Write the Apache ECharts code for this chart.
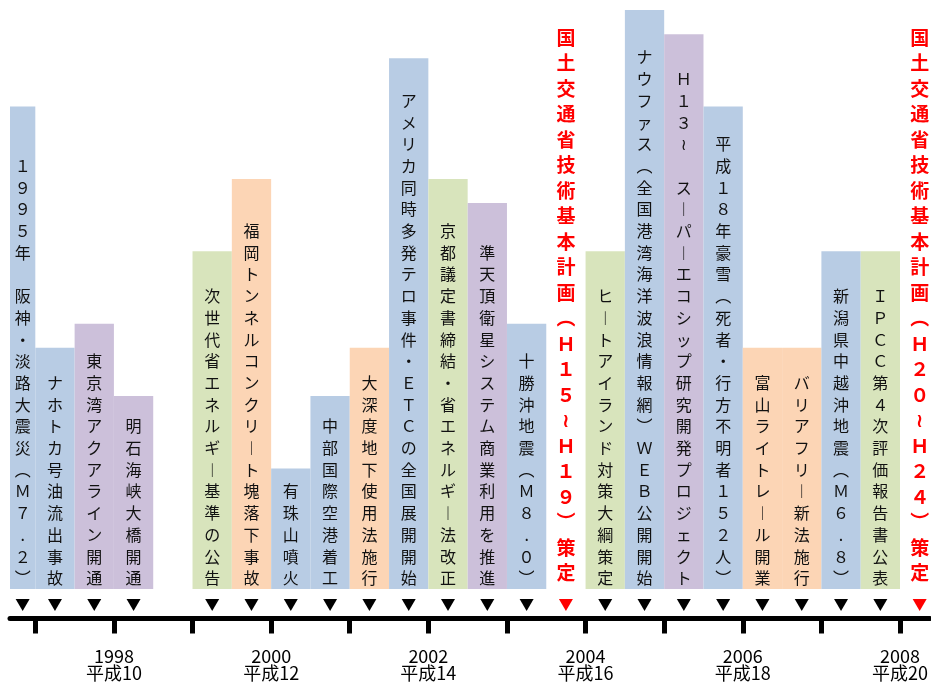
<!DOCTYPE html>
<html>
<head>
<meta charset="utf-8">
<script src="https://cdn.jsdelivr.net/npm/echarts@6/dist/echarts.min.js"></script>
<style>
html, body { margin: 0; padding: 0; background: #fff; }
#chart { width: 931px; height: 682px; }
</style>
</head>
<body>
<div id="chart"></div>
<script>
// events, left to right ('' = empty slot)
const eventLabels = [
  '１９９５年　阪神・淡路大震災（Ｍ７．２）',
  'ナホトカ号油流出事故',
  '東京湾アクアライン開通',
  '明石海峡大橋開通',
  '',
  '次世代省エネルギー基準の公告',
  '福岡トンネルコンクリート塊落下事故',
  '有珠山噴火',
  '中部国際空港着工',
  '大深度地下使用法施行',
  'アメリカ同時多発テロ事件・ＥＴＣの全国展開開始',
  '京都議定書締結・省エネルギー法改正',
  '準天頂衛星システム商業利用を推進',
  '十勝沖地震（Ｍ８．０）',
  '国土交通省技術基本計画（Ｈ１５～Ｈ１９）策定',
  'ヒートアイランド対策大綱策定',
  'ナウファス（全国港湾海洋波浪情報網）ＷＥＢ公開開始',
  'Ｈ１３～　スーパーエコシップ研究開発プロジェクト',
  '平成１８年豪雪（死者・行方不明者１５２人）',
  '富山ライトレール開業',
  'バリアフリー新法施行',
  '新潟県中越沖地震（Ｍ６．８）',
  'ＩＰＣＣ第４次評価報告書公表',
  '国土交通省技術基本計画（Ｈ２０～Ｈ２４）策定'
]
// group of each event (plan = red headline, no bar)
const eventGroups = [
  'a', 'a', 'b', 'b', null, 'c', 'd', 'a', 'a', 'd', 'a', 'c',
  'b', 'a', 'plan', 'c', 'a', 'b', 'a', 'd', 'd', 'a', 'c', 'plan'
]
// bar height in text rows
const barRows = [
  20, 10, 11, 8, null, 14, 17, 5, 8, 10, 22, 17,
  16, 11, null, 14, 24, 23, 20, 10, 10, 14, 14, null
]
// timeline
const tickYears = [1997, 1998, 1999, 2000, 2001, 2002, 2003, 2004, 2005, 2006, 2007, 2008]
const labelYears = [1998, 2000, 2002, 2004, 2006, 2008]
const heiseiLabels = ['平成10', '平成12', '平成14', '平成16', '平成18', '平成20']

const palette = { a: '#b8cce4', b: '#ccc0da', c: '#d8e4bc', d: '#fcd5b5' }
const fontFamily = '"Noto Sans CJK JP", "DejaVu Sans", sans-serif'
const verticalForms = { '（': '︵', '）': '︶', 'ー': '︱', '～': '≀', '．': '.' }

function toVertical(s) {
  return Array.from(s).map(c => verticalForms[c] || c).join('\n')
}
// two slots per year
function yearToSlot(y) {
  return (y - 1996.5) * 2
}
function slotToYear(v) {
  return Math.round(v / 2 + 1996.5)
}

function renderItem(params, api) {
  const i = api.value(0)
  const group = eventGroups[i]
  if (!group) return null
  const sys = params.coordSys
  const l = api.coord([i, 0])
  const r = api.coord([i + 1, 0])
  const x0 = Math.max(l[0], sys.x)
  const cx = (x0 + r[0]) / 2
  const base = l[1]
  const children = []
  const isPlan = group === 'plan'
  if (isPlan) {
    children.push({
      type: 'text',
      style: {
        text: toVertical(eventLabels[i]),
        x: cx, y: base - 3,
        align: 'center', verticalAlign: 'bottom',
        fill: '#ff0000',
        font: 'bold 19px ' + fontFamily,
        lineHeight: 25.5
      }
    })
  } else {
    const top = api.coord([i, api.value(1)])
    children.push({
      type: 'rect',
      shape: { x: x0, y: top[1], width: r[0] - x0, height: base - top[1] },
      style: { fill: palette[group] }
    })
    children.push({
      type: 'text',
      style: {
        text: toVertical(eventLabels[i]),
        x: cx, y: base,
        align: 'center', verticalAlign: 'bottom',
        fill: '#111',
        font: '16px ' + fontFamily,
        lineHeight: 21.7
      }
    })
  }
  children.push({
    type: 'polygon',
    shape: { points: [[cx - 7, base + 10], [cx + 7, base + 10], [cx, base + 22]] },
    style: { fill: isPlan ? '#ff0000' : '#000' }
  })
  return { type: 'group', children }
}

const chart = echarts.init(document.getElementById('chart'))
chart.setOption({
  animation: false,
  grid: { left: 10, right: 0, top: 10, bottom: 92 },
  xAxis: {
    type: 'value',
    min: 0.356,
    max: 23.76,
    offset: 29.5,
    splitLine: { show: false },
    axisLine: { show: true, onZero: false, lineStyle: { color: '#000', width: 5 } },
    axisTick: {
      show: true,
      customValues: tickYears.map(yearToSlot),
      length: 15,
      lineStyle: { color: '#000', width: 5 }
    },
    axisLabel: {
      customValues: labelYears.map(yearToSlot),
      margin: 29,
      color: '#000',
      fontSize: 18,
      lineHeight: 17,
      fontFamily: fontFamily,
      formatter: v => {
        const k = labelYears.indexOf(slotToYear(v))
        return labelYears[k] + '\n' + heiseiLabels[k]
      }
    }
  },
  yAxis: { type: 'value', min: 0, max: 24, show: false },
  series: [{
    type: 'custom',
    clip: false,
    renderItem,
    encode: { x: 0, y: 1 },
    data: eventLabels.map((_, i) => [i, barRows[i] == null ? 0 : barRows[i]])
  }]
})
</script>
</body>
</html>
